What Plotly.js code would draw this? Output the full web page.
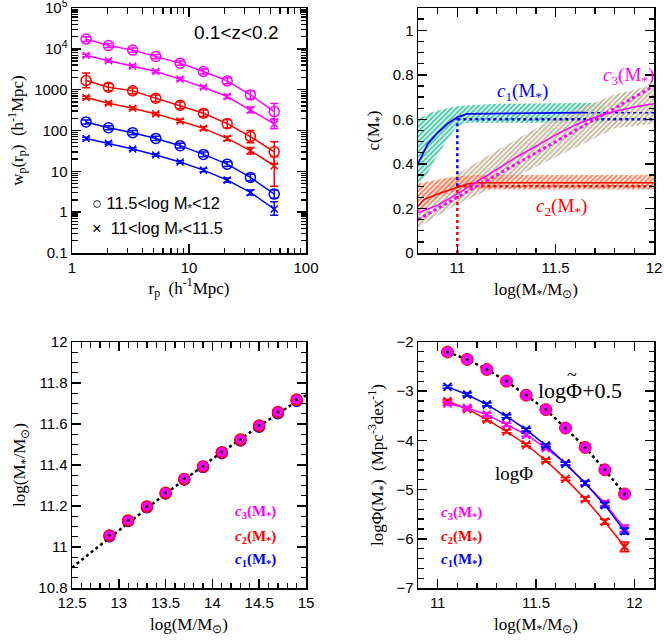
<!DOCTYPE html>
<html><head><meta charset="utf-8">
<script src="https://cdn.plot.ly/plotly-3.0.1.min.js"></script>
<style>body{margin:0;padding:0;background:#fff}#plot{width:664px;height:640px}</style>
</head><body><div id="plot"></div>
<script>
// ---------- Panel 1: wp(rp) ----------
const rp = [1.32, 2.05, 3.3, 5.2, 8.4, 13.3, 21.2, 33.5, 53.5];
const wpMagCirc = [17300, 12100, 9300, 6500, 4460, 2790, 1640, 745, 290];
const wpMagX    = [6890, 5090, 3770, 2790, 1810, 1150, 678, 319, 145];
const wpRedCirc = [1680, 1150, 935, 617, 416, 264, 147, 71, 30];
const wpRedX    = [641, 466, 351, 255, 171, 113, 64, 32, 13.7];
const wpBluCirc = [162, 117, 88.6, 64, 42.5, 26, 15, 7.1, 2.77];
const wpBluX    = [64, 48.5, 35.2, 25, 16.9, 10.7, 6.1, 3.04, 1.19];
// errors in dex (up, down)
const eMagCirc = [0.06,0.05,0.05,0.05,0.05,0.06,0.07,0.1,0.2];
const eMagX    = [0.03,0.03,0.03,0.03,0.03,0.03,0.05,0.07,0.12];
const eRedCircUp = [0.18,0.09,0.07,0.08,0.08,0.08,0.1,0.15,0.25];
const eRedCircDn = [0.18,0.09,0.07,0.08,0.08,0.08,0.1,0.15,0.3];
const eRedXUp  = [0.03,0.03,0.03,0.03,0.04,0.04,0.05,0.08,0.22];
const eRedXDn  = [0.03,0.03,0.03,0.03,0.04,0.04,0.05,0.08,0.5];
const eBluCirc = [0.05,0.05,0.05,0.05,0.06,0.06,0.06,0.08,0.1];
const eBluXUp  = [0.03,0.03,0.03,0.03,0.03,0.04,0.05,0.06,0.18];
const eBluXDn  = [0.03,0.03,0.03,0.03,0.03,0.04,0.05,0.06,0.15];
// tick label replacements for the log axis
const p1YLabelAlias = {'10k':'10<sup>4</sup>', '100k':'10<sup>5</sup>'};

// ---------- Panel 2: c(M*) ----------
const c1X = [10.8, 10.85, 10.9, 10.95, 11.0, 11.05, 11.65];
const c1Y = [0.40, 0.49, 0.54, 0.58, 0.61, 0.625, 0.63];
const c1BandX  = [10.8, 10.85, 10.9, 10.95, 11.0, 11.05, 11.1, 11.2, 11.75];
const c1BandUp = [0.60, 0.625, 0.64, 0.65, 0.66, 0.662, 0.665, 0.67, 0.675];
const c1BandLo = [0.30, 0.36, 0.44, 0.51, 0.57, 0.585, 0.585, 0.585, 0.585];
const c2X = [10.8, 10.83, 10.9, 10.95, 11.0, 11.05, 11.1, 12.0];
const c2Y = [0.21, 0.24, 0.265, 0.28, 0.295, 0.31, 0.315, 0.315];
const c2BandX  = [10.8, 10.9, 11.0, 11.1, 12.0];
const c2BandUp = [0.31, 0.33, 0.345, 0.35, 0.35];
const c2BandLo = [0.18, 0.25, 0.28, 0.285, 0.285];
const c3X = [10.8, 10.9, 11.0, 11.1, 11.2, 11.3, 11.4, 11.5, 11.6, 11.7, 11.8, 11.9, 12.0];
const c3Y = [0.18, 0.215, 0.265, 0.32, 0.375, 0.43, 0.48, 0.53, 0.575, 0.61, 0.635, 0.655, 0.67];
const c3DotX = [10.8, 11.0, 11.2, 11.4, 11.6, 11.8, 12.0];
const c3DotY = [0.15, 0.25, 0.35, 0.45, 0.55, 0.65, 0.75];
const c3BandX  = [10.8, 11.0, 11.2, 11.5, 11.8, 12.0];
const c3BandUp = [0.235, 0.355, 0.46, 0.61, 0.71, 0.757];
const c3BandLo = [0.116, 0.22, 0.30, 0.43, 0.56, 0.58];
const c1DotVX = [11.0, 11.0], c1DotVY = [0.3, 0.6];
const c1DotHX = [11.0, 12.0], c1DotHY = [0.6, 0.6];
const c1DotH2X = [11.65, 12.0], c1DotH2Y = [0.63, 0.63];
const c2DotVX = [11.0, 11.0], c2DotVY = [0.0, 0.3];
const c2DotHX = [11.0, 12.0], c2DotHY = [0.3, 0.3];

// ---------- Panel 3: M* vs M ----------
const logMh = [12.9, 13.1, 13.3, 13.5, 13.7, 13.9, 14.1, 14.3, 14.5, 14.7, 14.9];
const msC3 = [11.057, 11.130, 11.198, 11.265, 11.333, 11.394, 11.463, 11.525, 11.593, 11.659, 11.720];
const msC2 = [11.055, 11.128, 11.196, 11.262, 11.330, 11.392, 11.460, 11.522, 11.590, 11.656, 11.716];
const msC1 = [11.052, 11.126, 11.193, 11.260, 11.328, 11.389, 11.457, 11.519, 11.586, 11.652, 11.712];
const msLineX = [12.5, 13.0, 13.5, 14.0, 14.5, 15.0];
const msLineY = [10.90, 11.08, 11.26, 11.43, 11.59, 11.74];

// ---------- Panel 4: stellar mass function ----------
const logMs = [11.05, 11.15, 11.25, 11.35, 11.45, 11.55, 11.65, 11.75, 11.85, 11.95];
const phiTilde = [-2.204, -2.354, -2.558, -2.796, -3.082, -3.374, -3.748, -4.143, -4.599, -5.088];
const phiC1 = [-2.912, -3.068, -3.272, -3.510, -3.782, -4.102, -4.476, -4.871, -5.313, -5.840];
const phiC3 = [-3.252, -3.340, -3.476, -3.680, -3.884, -4.156, -4.463, -4.871, -5.279, -5.790];
const phiC2 = [-3.204, -3.361, -3.578, -3.816, -4.088, -4.408, -4.782, -5.190, -5.653, -6.163];
const ePhiC1 = [0.03,0.03,0.03,0.03,0.03,0.03,0.03,0.04,0.05,0.06];
const ePhiC3 = [0.03,0.03,0.03,0.03,0.03,0.03,0.03,0.04,0.05,0.07];
const ePhiC2 = [0.03,0.03,0.03,0.03,0.03,0.03,0.03,0.04,0.05,0.1];

// ---------- styling ----------
const BLUE='#0000ff', RED='#ff0000', MAG='#ff00ff';
const tickFont = {family:'Liberation Sans, Arial, sans-serif', size:15, color:'#000'};
const titleFont = {family:'Liberation Serif, Times New Roman, serif', size:17, color:'#000'};

function upErr(y, e){ return y.map((v,i)=>v*(Math.pow(10,e[i])-1)); }
function dnErr(y, e){ return y.map((v,i)=>v*(1-Math.pow(10,-e[i]))); }

const traces = [];
function wpTrace(y, eu, ed, color, sym){
  traces.push({x: rp, y: y, xaxis:'x', yaxis:'y', type:'scatter', mode:'lines+markers',
    line:{color:color, width:1.5},
    marker:{symbol: sym, size: sym==='circle-open'?10:7, color:color, line:{color:color, width:1.5}},
    error_y:{type:'data', symmetric:false, array: upErr(y,eu), arrayminus: dnErr(y,ed), color:color, thickness:1.5, width:4},
    showlegend:false, hoverinfo:'skip'});
}
wpTrace(wpMagCirc, eMagCirc, eMagCirc, MAG, 'circle-open');
wpTrace(wpMagX, eMagX, eMagX, MAG, 'x-thin-open');
wpTrace(wpRedCirc, eRedCircUp, eRedCircDn, RED, 'circle-open');
wpTrace(wpRedX, eRedXUp, eRedXDn, RED, 'x-thin-open');
wpTrace(wpBluCirc, eBluCirc, eBluCirc, BLUE, 'circle-open');
wpTrace(wpBluX, eBluXUp, eBluXDn, BLUE, 'x-thin-open');

// Panel 2 bands
function band(xs, up, lo, color){
  traces.push({x: xs.concat(xs.slice().reverse()), y: up.concat(lo.slice().reverse()),
    xaxis:'x2', yaxis:'y2', type:'scatter', mode:'lines', line:{width:0, color:color},
    fill:'toself', fillcolor:'rgba(0,0,0,0)',
    fillpattern:{shape:'/', fgcolor:color, bgcolor:'rgba(255,255,255,0)', size:3.5, solidity:0.55},
    showlegend:false, hoverinfo:'skip'});
}
band(c1BandX, c1BandUp, c1BandLo, '#3ccaa0');
band(c3BandX, c3BandUp, c3BandLo, '#c4b89c');
band(c2BandX, c2BandUp, c2BandLo, '#ff7f5c');
function line2(x, y, color, dash, w){
  traces.push({x:x, y:y, xaxis:'x2', yaxis:'y2', type:'scatter', mode:'lines',
    line:{color:color, width:w, dash:dash}, showlegend:false, hoverinfo:'skip'});
}
line2(c1DotVX, c1DotVY, BLUE, 'dot', 2.5);
line2(c1DotHX, c1DotHY, BLUE, 'dot', 2.5);
line2(c1DotH2X, c1DotH2Y, BLUE, 'dot', 1.5);
line2(c2DotVX, c2DotVY, RED, 'dot', 2.5);
line2(c2DotHX, c2DotHY, RED, 'dot', 2.5);
line2(c3DotX, c3DotY, MAG, 'dot', 3);
line2(c1X, c1Y, BLUE, 'solid', 1.8);
line2(c2X, c2Y, RED, 'solid', 1.5);
line2(c3X, c3Y, MAG, 'solid', 1.5);

// Panel 3
traces.push({x: msLineX, y: msLineY, xaxis:'x3', yaxis:'y3', type:'scatter', mode:'lines',
  line:{color:'#000', width:2.5, dash:'dot'}, showlegend:false, hoverinfo:'skip'});
[[msC1, BLUE],[msC2, RED],[msC3, MAG]].forEach(([y,c],k)=>{
  traces.push({x: logMh, y: y, xaxis:'x3', yaxis:'y3', type:'scatter', mode:'markers',
    marker:{symbol:'circle', size:11, color: k===2? MAG : c, line:{color: k===2? RED : c, width:1.2}},
    showlegend:false, hoverinfo:'skip'});
});
traces.push({x: logMh, y: msC3, xaxis:'x3', yaxis:'y3', type:'scatter', mode:'markers',
  marker:{symbol:'circle', size:3, color:'#000'}, showlegend:false, hoverinfo:'skip'});

// Panel 4
traces.push({x: logMs, y: phiTilde, xaxis:'x4', yaxis:'y4', type:'scatter', mode:'lines',
  line:{color:'#000', width:2.5, dash:'dot'}, showlegend:false, hoverinfo:'skip'});
traces.push({x: logMs, y: phiTilde, xaxis:'x4', yaxis:'y4', type:'scatter', mode:'markers',
  marker:{symbol:'circle', size:12, color:MAG, line:{color:RED, width:1}}, showlegend:false, hoverinfo:'skip'});
traces.push({x: logMs, y: phiTilde, xaxis:'x4', yaxis:'y4', type:'scatter', mode:'markers',
  marker:{symbol:'circle', size:3, color:'#000'}, showlegend:false, hoverinfo:'skip'});
[[phiC2, ePhiC2, RED],[phiC3, ePhiC3, MAG],[phiC1, ePhiC1, BLUE]].forEach(([y,e,c])=>{
  traces.push({x: logMs, y: y, xaxis:'x4', yaxis:'y4', type:'scatter', mode:'lines+markers',
    line:{color:c, width:1.5},
    marker:{symbol:'x-thin-open', size:8, color:c, line:{color:c, width:2}},
    error_y:{type:'data', array:e, color:c, thickness:1.5, width:5},
    showlegend:false, hoverinfo:'skip'});
});

// axes
const minorStyle = {ticks:'inside', ticklen:5.5, tickwidth:1.3, tickcolor:'#000', showgrid:false};
const common = {showline:true, linecolor:'#000', linewidth:1.5, mirror:'allticks', ticks:'inside',
  ticklen:9, tickwidth:1.5, tickcolor:'#000', showgrid:false, zeroline:false, tickfont:tickFont,
  automargin:false, ticklabeloverflow:'allow'};
function linAx(range, dtick, minorDtick, domain, anchor, title){
  return Object.assign({}, common, {range:range, domain:domain, anchor:anchor,
    title:{text:title, font:titleFont, standoff:8}, dtick:dtick, tick0:0,
    minor:Object.assign({}, minorStyle, {dtick:minorDtick, tick0:0})});
}
function logAx(range, domain, anchor, title, alias){
  return Object.assign({}, common, {type:'log', range:range, domain:domain, anchor:anchor,
    title:{text:title, font:titleFont, standoff:6},
    tickmode:'linear', tick0:0, dtick:1, labelalias:alias || {},
    minor:Object.assign({}, minorStyle)});
}

const dx1=[72/664, 306/664], dx2=[418/664, 654/664];
const dyTop=[1-253/640, 1-8/640], dyBot=[1-588/640, 1-342/640];
const annFontSans = {family:'Liberation Sans, Arial, sans-serif', size:16.5, color:'#000'};

const layout = {
  width:664, height:640, margin:{l:0,r:0,t:0,b:0}, paper_bgcolor:'#fff', plot_bgcolor:'#fff',
  showlegend:false,
  xaxis: logAx([0,2], dx1, 'y', 'r<sub>p</sub>  (h<sup>-1</sup>Mpc)'),
  yaxis: logAx([-1,5], dyTop, 'x', 'w<sub>p</sub>(r<sub>p</sub>)  (h<sup>-1</sup>Mpc)', p1YLabelAlias),
  xaxis2: linAx([10.8,12], 0.5, 0.1, dx2, 'y2', 'log(M<sub>*</sub>/M<sub>⊙</sub>)'),
  yaxis2: linAx([0,1.1], 0.2, 0.05, dyTop, 'x2', 'c(M<sub>*</sub>)'),
  xaxis3: linAx([12.5,15], 0.5, 0.1, dx1, 'y3', 'log(M/M<sub>⊙</sub>)'),
  yaxis3: linAx([10.8,12], 0.2, 0.05, dyBot, 'x3', 'log(M<sub>*</sub>/M<sub>⊙</sub>)'),
  xaxis4: linAx([10.9,12.1], 0.5, 0.1, dx2, 'y4', 'log(M<sub>*</sub>/M<sub>⊙</sub>)'),
  yaxis4: linAx([-7,-2], 1, 0.2, dyBot, 'x4', 'logΦ(M<sub>*</sub>)  (Mpc<sup>-3</sup>dex<sup>-1</sup>)'),
  annotations: [
    {xref:'x', yref:'y', x:1.41, y:4.41, text:'0.1&lt;z&lt;0.2', showarrow:false,
      font:{family:'Liberation Sans, Arial, sans-serif', size:19, color:'#000'}},
    {xref:'x', yref:'y', x:0.15, y:0.20, xanchor:'left',
      text:'○ 11.5&lt;log M<sub>*</sub>&lt;12', showarrow:false, font:annFontSans},
    {xref:'x', yref:'y', x:0.15, y:-0.41, xanchor:'left',
      text:'×  11&lt;log M<sub>*</sub>&lt;11.5', showarrow:false, font:annFontSans},
    {xref:'x2', yref:'y2', x:11.33, y:0.725, text:'<i>c</i><sub>1</sub>(M<sub>*</sub>)', showarrow:false,
      font:{family:'Liberation Serif, serif', size:19, color:BLUE}},
    {xref:'x2', yref:'y2', x:11.87, y:0.795, text:'<i>c</i><sub>3</sub>(M<sub>*</sub>)', showarrow:false,
      font:{family:'Liberation Serif, serif', size:19, color:MAG}},
    {xref:'x2', yref:'y2', x:11.53, y:0.205, text:'<i>c</i><sub>2</sub>(M<sub>*</sub>)', showarrow:false,
      font:{family:'Liberation Serif, serif', size:19, color:RED}},
    {xref:'x3', yref:'y3', x:14.46, y:11.17, text:'<b><i>c</i><sub>3</sub>(M<sub>*</sub>)</b>', showarrow:false,
      font:{family:'Liberation Serif, serif', size:15, color:MAG}},
    {xref:'x3', yref:'y3', x:14.46, y:11.05, text:'<b><i>c</i><sub>2</sub>(M<sub>*</sub>)</b>', showarrow:false,
      font:{family:'Liberation Serif, serif', size:15, color:RED}},
    {xref:'x3', yref:'y3', x:14.46, y:10.935, text:'<b><i>c</i><sub>1</sub>(M<sub>*</sub>)</b>', showarrow:false,
      font:{family:'Liberation Serif, serif', size:15, color:BLUE}},
    {xref:'x4', yref:'y4', x:11.50, y:-2.98, xanchor:'left', text:'logΦ+0.5', showarrow:false,
      font:{family:'Liberation Serif, serif', size:22, color:'#000'}},
    {xref:'x4', yref:'y4', x:11.685, y:-2.98, yshift:15, text:'~', showarrow:false,
      font:{family:'Liberation Serif, serif', size:18, color:'#000'}},
    {xref:'x4', yref:'y4', x:11.39, y:-4.68, text:'logΦ', showarrow:false,
      font:{family:'Liberation Serif, serif', size:19, color:'#000'}},
    {xref:'x4', yref:'y4', x:11.12, y:-5.47, text:'<b><i>c</i><sub>3</sub>(M<sub>*</sub>)</b>', showarrow:false,
      font:{family:'Liberation Serif, serif', size:15, color:MAG}},
    {xref:'x4', yref:'y4', x:11.12, y:-5.96, text:'<b><i>c</i><sub>2</sub>(M<sub>*</sub>)</b>', showarrow:false,
      font:{family:'Liberation Serif, serif', size:15, color:RED}},
    {xref:'x4', yref:'y4', x:11.12, y:-6.44, text:'<b><i>c</i><sub>1</sub>(M<sub>*</sub>)</b>', showarrow:false,
      font:{family:'Liberation Serif, serif', size:15, color:BLUE}}
  ]
};
Plotly.newPlot('plot', traces, layout, {staticPlot:true, displayModeBar:false});
</script></body></html>
